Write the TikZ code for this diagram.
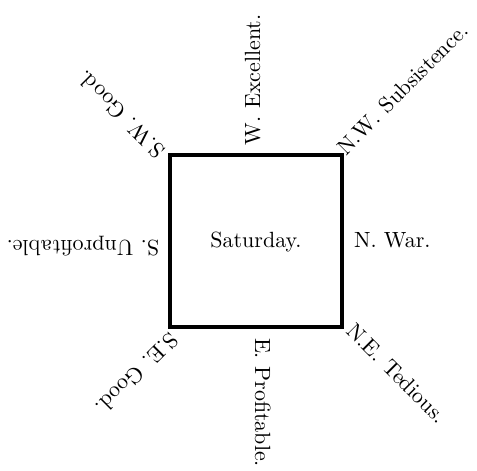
\documentclass[tikz,border=0pt]{standalone}
\newcommand{\bigtxt}[1]{\scalebox{2.2}{\fontsize{10}{12}\selectfont #1}}
\begin{document}
\begin{tikzpicture}[x=1pt,y=-1pt,
  lbl/.style={inner sep=0pt,outer sep=0pt,anchor=base west},
  box/.style={draw,line width=3.6pt,minimum width=172pt,minimum height=172pt,inner sep=0pt}]
\useasboundingbox (0,0) rectangle (477,471);
\node[box] (sq) at (256,241) {};
\node[lbl,anchor=base] (sat) at (256,247) {\bigtxt{Saturday.}};
\node[lbl] (w) at (260,145) [rotate=90] {\bigtxt{W. Excellent.}};
\node[lbl] (nw) at (346,156) [rotate=45] {\bigtxt{N.W. Subsistence.}};
\node[lbl] (n) at (354,247) {\bigtxt{N. War.}};
\node[lbl] (ne) at (345,332) [rotate=-45] {\bigtxt{N.E. Tedious.}};
\node[lbl] (e) at (255,338) [rotate=-90] {\bigtxt{E. Profitable.}};
\node[lbl] (se) at (169,331) [rotate=225] {\bigtxt{S.E. Good.}};
\node[lbl] (s) at (159,240) [rotate=180] {\bigtxt{S. Unprofitable.}};
\node[lbl] (sw) at (166,149) [rotate=135] {\bigtxt{S.W. Good.}};
\end{tikzpicture}
\end{document}
